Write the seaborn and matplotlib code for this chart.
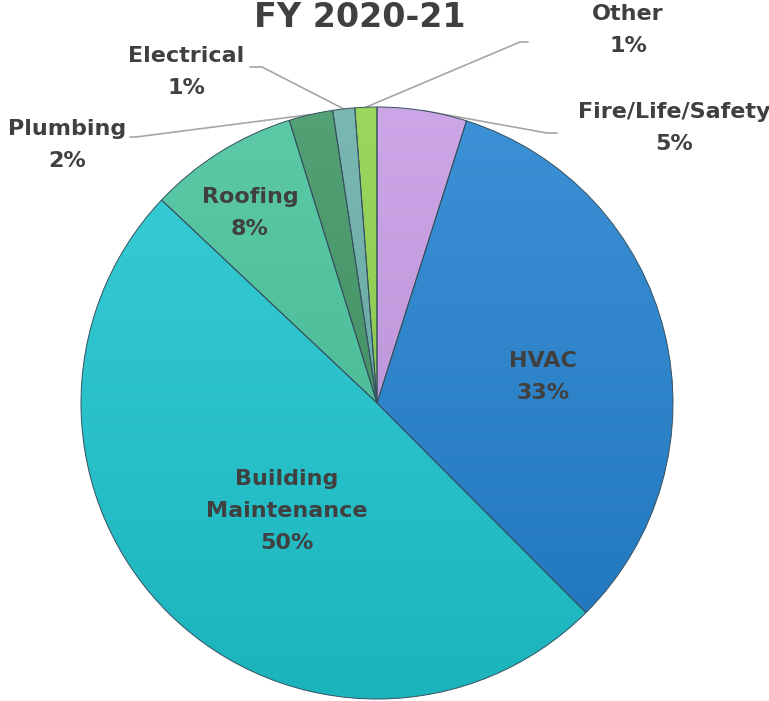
import numpy as np
import matplotlib
matplotlib.use("Agg")
import matplotlib.pyplot as plt
from matplotlib.colors import to_rgb
import seaborn as sns

# slices, clockwise from 12 o'clock
categories = ["Fire/Life/Safety", "HVAC", "Building\nMaintenance", "Roofing",
              "Plumbing", "Electrical", "Other"]
values = [4.9, 32.7, 49.6, 8.2, 2.4, 1.2, 1.2]
colors = ["#c59ae4", "#2282d0", "#1ec8d2", "#46c39b", "#3c9461", "#68aea8", "#8ed24a"]
title = "FY 2020-21"

sns.set_theme(style="white")
plt.rcParams["font.family"] = ["DejaVu Sans"]
TXT = "#404040"

W, H = 769, 701
fig = plt.figure(figsize=(W / 100, H / 100), dpi=100)
cx, cy, R = 377, 403, 296
ax = fig.add_axes([(cx - R) / W, (H - cy - R) / H, 2 * R / W, 2 * R / H])

total = sum(values)
pcts = [v / total * 100 for v in values]
wedges, _ = ax.pie(values, colors=colors, startangle=90, counterclock=False,
                   radius=1, wedgeprops=dict(edgecolor="#355060", linewidth=0.7))

# soft vertical shading: lighter at the top, darker at the bottom
t = np.linspace(1, 0, 200)[:, None, None]
for w, c in zip(wedges, colors):
    base = np.array(to_rgb(c))
    top = base + (1 - base) * 0.12
    bot = base * 0.9
    grad = (top * t + bot * (1 - t)) * np.ones((1, 2, 3))
    im = ax.imshow(grad, extent=(-1, 1, -1, 1), origin="upper", zorder=1,
                   aspect="auto", interpolation="bilinear")
    im.set_clip_path(w)
    w.set_facecolor("none")
    w.set_zorder(2)

ax.set_xlim(-1, 1)
ax.set_ylim(-1, 1)
ax.set_aspect("equal")
ax.axis("off")


def px(x, y):
    return (x - cx) / R, (cy - y) / R


def edge_point(w, r=1.0):
    a = np.deg2rad((w.theta1 + w.theta2) / 2)
    return r * np.cos(a), r * np.sin(a)


FS = 16
LS = 1.75
# inside labels
inside = {1: (543, 377), 2: (287, 511), 3: (250, 213)}
for i, (x, y) in inside.items():
    ax.text(*px(x, y), f"{categories[i]}\n{pcts[i]:.0f}%", ha="center", va="center",
            fontsize=FS, fontweight="bold", color=TXT, linespacing=LS, zorder=3)

# outside labels with leader lines: label centre, line start, elbow
outside = {
    0: ((674, 128), (557, 133), (547, 133)),
    6: ((628, 30), (528, 42), (520, 42)),
    5: ((186, 72), (250, 67), (262, 67)),
    4: ((67, 145), (130, 137), (136, 137)),
}
for i, (lab, p0, p1) in outside.items():
    ax.text(*px(*lab), f"{categories[i]}\n{pcts[i]:.0f}%", ha="center", va="center",
            fontsize=FS, fontweight="bold", color=TXT, linespacing=LS, zorder=3)
    ex, ey = edge_point(wedges[i])
    xs = [px(*p0)[0], px(*p1)[0], ex]
    ys = [px(*p0)[1], px(*p1)[1], ey]
    ax.plot(xs, ys, color="#a6a6a6", lw=1.2, clip_on=False, zorder=0)

fig.text(359.5 / W, 1 - 27 / H, title, ha="center", va="baseline",
         fontsize=24, fontweight="bold", color=TXT)

fig.savefig("out.png", dpi=100)
